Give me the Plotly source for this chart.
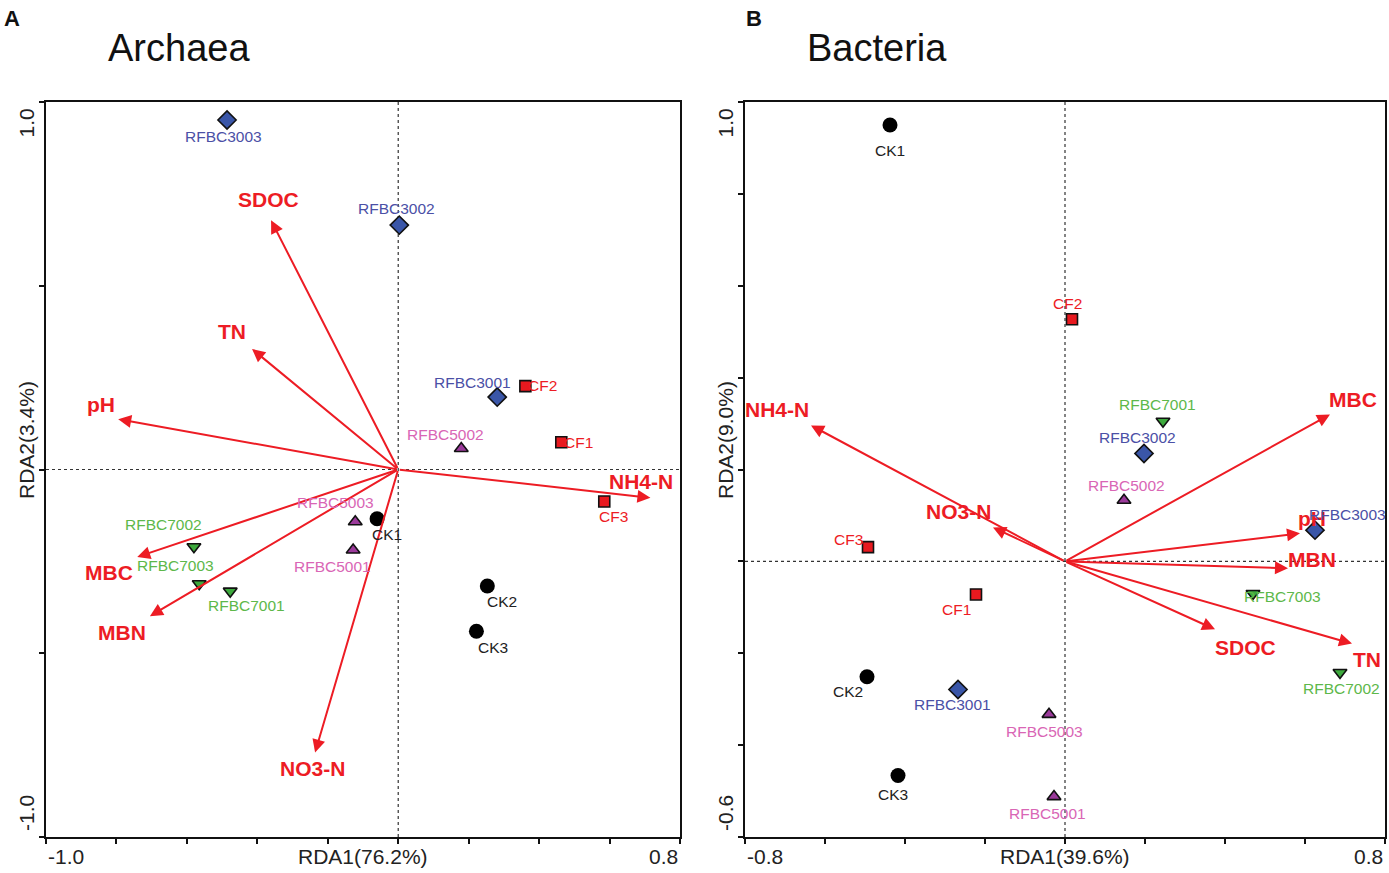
import plotly.graph_objects as go

# ---------------- DATA ----------------
# Panel A: Archaea
arch_names = ["RFBC3003", "RFBC3002", "RFBC3001", "CF2", "CF1", "CF3",
              "RFBC5002", "RFBC5003", "RFBC5001", "CK1", "CK2", "CK3",
              "RFBC7002", "RFBC7003", "RFBC7001"]
arch_x = [-0.486, 0.003, 0.281, 0.361, 0.463, 0.585,
          0.179, -0.122, -0.128, -0.060, 0.253, 0.222,
          -0.580, -0.565, -0.477]
arch_y = [0.951, 0.665, 0.197, 0.227, 0.074, -0.087,
          0.057, -0.142, -0.219, -0.134, -0.317, -0.440,
          -0.210, -0.311, -0.331]
arch_env = ["SDOC", "TN", "pH", "MBC", "MBN", "NO3-N", "NH4-N"]
arch_env_x = [-0.361, -0.415, -0.795, -0.741, -0.705, -0.236, 0.716]
arch_env_y = [0.678, 0.328, 0.137, -0.238, -0.399, -0.770, -0.077]

# Panel B: Bacteria
bact_names = ["CK1", "CF2", "RFBC7001", "RFBC3002", "RFBC5002", "RFBC3003",
              "CF3", "CF1", "RFBC7003", "RFBC7002", "CK2", "RFBC3001",
              "RFBC5003", "CK3", "RFBC5001"]
bact_x = [-0.4375, 0.0175, 0.245, 0.1975, 0.1475, 0.625,
          -0.4925, -0.2225, 0.470, 0.6875, -0.495, -0.2675,
          -0.040, -0.4175, -0.0275]
bact_y = [0.950, 0.527, 0.305, 0.235, 0.133, 0.068,
          0.031, -0.072, -0.070, -0.242, -0.251, -0.279,
          -0.333, -0.466, -0.512]
bact_env = ["MBC", "pH", "MBN", "SDOC", "TN", "NH4-N", "NO3-N"]
bact_env_x = [0.6625, 0.5875, 0.5575, 0.375, 0.7175, -0.635, -0.180]
bact_env_y = [0.320, 0.061, -0.015, -0.148, -0.179, 0.296, 0.074]

panel_titles = ["Archaea", "Bacteria"]
panel_letters = ["A", "B"]
x_titles = ["RDA1(76.2%)", "RDA1(39.6%)"]
y_titles = ["RDA2(3.4%)", "RDA2(9.0%)"]
x_ranges = [(-1.0, 0.8), (-0.8, 0.8)]
y_ranges = [(-1.0, 1.0), (-0.6, 1.0)]
x_tick_labels = [("-1.0", "0.8"), ("-0.8", "0.8")]
y_tick_labels = [("1.0", "-1.0"), ("1.0", "-0.6")]

# ---------------- STYLE ----------------
RED = "#ED1C24"
FONT = "Liberation Sans, Arial, sans-serif"
groups = {
    "CK": dict(symbol="circle", fill="#000000", text="#222222", size=15, line=0),
    "CF": dict(symbol="square", fill="#E8191F", text="#ED1C24", size=11, line=1.6),
    "RFBC300": dict(symbol="diamond", fill="#3A56A8", text="#4B50A6", size=14, line=1.6),
    "RFBC500": dict(symbol="triangle-up", fill="#9B3A9B", text="#D966B5", size=12, line=1.6),
    "RFBC700": dict(symbol="triangle-down", fill="#3DAA3D", text="#5DB84A", size=12, line=1.6),
}


def group_of(name):
    for k in ["RFBC300", "RFBC500", "RFBC700", "CK", "CF"]:
        if name.startswith(k):
            return k


# label offsets (pixels, dx right, dy down)
arch_lab_off = {"RFBC3003": (-4, 16), "RFBC3002": (-3, -17), "RFBC3001": (-25, -15),
                "CF2": (17, -1), "CF1": (17, 0), "CF3": (9, 15), "RFBC5002": (-16, -14),
                "RFBC5003": (-20, -19), "RFBC5001": (-21, 17), "CK1": (10, 16),
                "CK2": (15, 15), "CK3": (17, 16), "RFBC7002": (-30, -22),
                "RFBC7003": (-24, -18), "RFBC7001": (16, 14)}
bact_lab_off = {"CK1": (0, 26), "CF2": (-5, -16), "RFBC7001": (-6, -17),
                "RFBC3002": (-7, -16), "RFBC5002": (2, -15), "RFBC3003": (32, -16),
                "CF3": (-20, -8), "CF1": (-20, 15), "RFBC7003": (29, 3),
                "RFBC7002": (1, 16), "CK2": (-19, 15), "RFBC3001": (-6, 15),
                "RFBC5003": (-5, 17), "CK3": (-5, 19), "RFBC5001": (-7, 17)}
arch_env_off = {"SDOC": (-3, -21), "TN": (-20, -17), "pH": (-17, -15), "MBC": (-28, 16),
                "MBN": (-28, 16), "NO3-N": (-3, 16), "NH4-N": (-9, -16)}
bact_env_off = {"MBC": (23, -15), "pH": (12, -15), "MBN": (24, -9), "SDOC": (30, 18),
                "TN": (15, 16), "NH4-N": (-34, -16), "NO3-N": (-35, -16)}

W, H = 1389, 873
x_domains = [(46 / W, 680 / W), (745 / W, 1385 / W)]
y_domain = ((H - 837) / H, (H - 102) / H)
y_dticks = [0.5, 0.2]
Y_TITLE_PX = 440

fig = go.Figure()
annotations = []
shapes = []

panels = [
    (arch_names, arch_x, arch_y, arch_env, arch_env_x, arch_env_y, arch_lab_off, arch_env_off),
    (bact_names, bact_x, bact_y, bact_env, bact_env_x, bact_env_y, bact_lab_off, bact_env_off),
]

for i, (names, xs, ys, env, ex, ey, loff, eoff) in enumerate(panels):
    xa = "x" if i == 0 else "x2"
    ya = "y" if i == 0 else "y2"
    xdom = "x domain" if i == 0 else "x2 domain"
    ydom = "y domain" if i == 0 else "y2 domain"

    # zero lines
    shapes.append(dict(type="line", xref=xa, yref=ydom, x0=0, x1=0, y0=0, y1=1,
                       line=dict(color="#333333", width=1.2, dash="dot"), layer="below"))
    shapes.append(dict(type="line", xref=xdom, yref=ya, x0=0, x1=1, y0=0, y1=0,
                       line=dict(color="#333333", width=1.2, dash="dot"), layer="below"))

    # env arrows
    for n, vx, vy in zip(env, ex, ey):
        annotations.append(dict(x=vx, y=vy, xref=xa, yref=ya, ax=0, ay=0, axref=xa, ayref=ya,
                                text="", showarrow=True, arrowhead=2, arrowsize=1.3,
                                arrowwidth=2, arrowcolor=RED, standoff=0, startstandoff=0))
        dx, dy = eoff[n]
        annotations.append(dict(x=vx, y=vy, xref=xa, yref=ya, text="<b>%s</b>" % n,
                                showarrow=False, xshift=dx, yshift=-dy,
                                font=dict(family=FONT, size=21, color=RED)))

    # sample points by group
    for g, st in groups.items():
        idx = [k for k, n in enumerate(names) if group_of(n) == g]
        fig.add_trace(go.Scatter(
            x=[xs[k] for k in idx], y=[ys[k] for k in idx], xaxis=xa, yaxis=ya,
            mode="markers", showlegend=False,
            marker=dict(symbol=st["symbol"], size=st["size"], color=st["fill"],
                        line=dict(color="#111111", width=st["line"]))))
    for n, vx, vy in zip(names, xs, ys):
        dx, dy = loff[n]
        annotations.append(dict(x=vx, y=vy, xref=xa, yref=ya, text=n, showarrow=False,
                                xshift=dx, yshift=-dy,
                                font=dict(family=FONT, size=15.5, color=groups[group_of(n)]["text"])))

    # tick labels at axis ends (inward aligned)
    lo, hi = x_tick_labels[i]
    annotations.append(dict(x=0, y=0, xref=xdom, yref=ydom, text=lo, showarrow=False,
                            xanchor="left", yanchor="top", yshift=-6,
                            font=dict(family=FONT, size=21, color="#222")))
    annotations.append(dict(x=1, y=0, xref=xdom, yref=ydom, text=hi, showarrow=False,
                            xanchor="right", yanchor="top", yshift=-6,
                            font=dict(family=FONT, size=21, color="#222")))
    top, bot = y_tick_labels[i]
    annotations.append(dict(x=0, y=1, xref=xdom, yref=ydom, text=top, showarrow=False,
                            textangle=-90, xanchor="center", yanchor="top",
                            xshift=-20, yshift=-5,
                            font=dict(family=FONT, size=21, color="#222")))
    annotations.append(dict(x=0, y=0, xref=xdom, yref=ydom, text=bot, showarrow=False,
                            textangle=-90, xanchor="center", yanchor="bottom",
                            xshift=-20, yshift=4,
                            font=dict(family=FONT, size=21, color="#222")))
    # axis titles
    annotations.append(dict(x=0.5, y=0, xref=xdom, yref=ydom, text=x_titles[i], showarrow=False,
                            xanchor="center", yanchor="top", yshift=-6,
                            font=dict(family=FONT, size=21, color="#222")))
    annotations.append(dict(x=0, y=(H - Y_TITLE_PX) / H, xref=xdom, yref="paper",
                            text=y_titles[i], showarrow=False, textangle=-90,
                            xanchor="center", yanchor="middle", xshift=-20,
                            font=dict(family=FONT, size=21, color="#222")))
    # panel title and letter
    annotations.append(dict(x=x_domains[i][0], y=1, xref="paper", yref="paper",
                            text=panel_titles[i], showarrow=False, xanchor="left", yanchor="top",
                            xshift=60, yshift=-25,
                            font=dict(family=FONT, size=38, color="#111")))
    annotations.append(dict(x=x_domains[i][0], y=1, xref="paper", yref="paper",
                            text="<b>%s</b>" % panel_letters[i], showarrow=False,
                            xanchor="left", yanchor="top",
                            xshift=-44 if i == 0 else -1, yshift=-4,
                            font=dict(family=FONT, size=22, color="#111")))

axis_common = dict(showgrid=False, zeroline=False, showline=True, linecolor="#111",
                   linewidth=2, mirror=True, ticks="outside", ticklen=5, tickwidth=2,
                   tickcolor="#111", showticklabels=False, fixedrange=True)

fig.update_layout(
    width=W, height=H, autosize=False,
    margin=dict(l=0, r=0, t=0, b=0),
    paper_bgcolor="white", plot_bgcolor="white",
    xaxis=dict(domain=x_domains[0], range=list(x_ranges[0]), dtick=0.2, tick0=0,
               anchor="y", **axis_common),
    yaxis=dict(domain=y_domain, range=list(y_ranges[0]), dtick=y_dticks[0], tick0=0,
               anchor="x", **axis_common),
    xaxis2=dict(domain=x_domains[1], range=list(x_ranges[1]), dtick=0.2, tick0=0,
                anchor="y2", **axis_common),
    yaxis2=dict(domain=y_domain, range=list(y_ranges[1]), dtick=y_dticks[1], tick0=0,
                anchor="x2", **axis_common),
    annotations=annotations,
    shapes=shapes,
)

fig.write_html("out.html", config={"displayModeBar": False},
               post_script="document.body.style.margin='0';document.body.style.overflow='hidden';")
